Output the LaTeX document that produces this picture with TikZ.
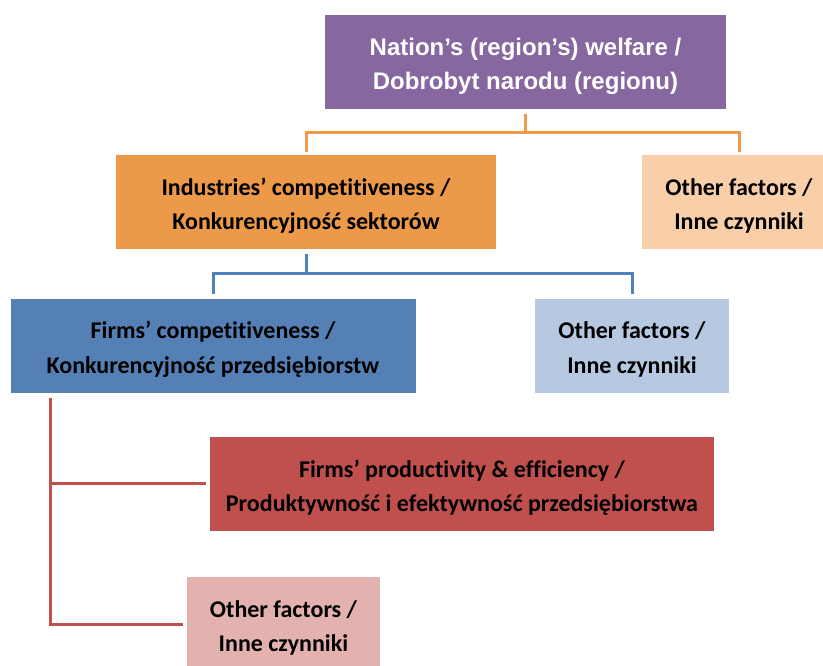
\documentclass[tikz,border=0pt]{standalone}
\usepackage{fontspec}
\setmainfont{Carlito}[Ligatures=NoCommon]
\newfontfamily\arialf{Liberation Sans}
\definecolor{cpurple}{HTML}{8667A0}
\definecolor{corange}{HTML}{EC9A4A}
\definecolor{cpeach}{HTML}{F8CFA8}
\definecolor{cblue}{HTML}{5480B5}
\definecolor{clblue}{HTML}{B7C9E1}
\definecolor{cred}{HTML}{C0504D}
\definecolor{cpink}{HTML}{E3B1AE}
\definecolor{lorange}{HTML}{F0974A}
\definecolor{lblue}{HTML}{4F81BD}
\definecolor{lred}{HTML}{C0504D}
\begin{document}
\begin{tikzpicture}[x=1pt,y=-1pt,
  box/.style={rectangle, inner sep=0pt, minimum height=94pt},
  txt/.style={inner sep=0pt, align=center,
     font=\fontsize{24}{34.5}\selectfont\bfseries, text=black},
  oline/.style={draw=lorange, line width=3pt},
  bline/.style={draw=lblue, line width=3pt},
  rline/.style={draw=lred, line width=3pt}]
\useasboundingbox (0,0) rectangle (823,666);
\node[box, fill=cpurple, minimum width=401pt] (top) at (525.5,62) {};
\node[box, fill=corange, minimum width=380pt] (ind) at (306,202) {};
\node[box, fill=cpeach, minimum width=194pt] (oth1) at (739,202) {};
\node[box, fill=cblue, minimum width=405pt] (firms) at (213,345.5) {};
\node[box, fill=clblue, minimum width=194pt] (oth2) at (632,345.5) {};
\node[box, fill=cred, minimum width=504pt] (prod) at (462,483.5) {};
\node[box, fill=cpink, minimum width=193pt] (oth3) at (283.5,624) {};
% texts
\node[txt, text=white, font=\arialf\fontsize{24}{34.5}\selectfont\bfseries]
  (topt) at ([yshift=-4.5pt]top.center)
  {Nation’s (region’s) welfare /\\Dobrobyt narodu (regionu)};
\node[txt] (indt) at ([yshift=-4pt]ind.center)
  {Industries’ competitiveness /\\Konkurencyjność sektorów};
\node[txt] (oth1t) at ([yshift=-4pt]oth1.center)
  {Other factors /\\Inne czynniki};
\node[txt] (firmst) at ([yshift=-4pt]firms.center)
  {Firms’ competitiveness /\\Konkurencyjność przedsiębiorstw};
\node[txt] (oth2t) at ([yshift=-4pt]oth2.center)
  {Other factors /\\Inne czynniki};
\node[txt] (prodt) at ([yshift=-4pt]prod.center)
  {Firms’ productivity \& efficiency /\\Produktywność i efektywność przedsiębiorstwa};
\node[txt] (oth3t) at ([yshift=-4pt]oth3.center)
  {Other factors /\\Inne czynniki};
% orange tree
\coordinate (j1) at (top.south |- 0,133);
\draw[oline, shorten <=5pt] (top.south) -- (j1);
\draw[oline, shorten >=3pt] (j1) -| (ind.north);
\draw[oline, shorten >=3pt] (j1) -| (oth1.north);
% blue tree
\coordinate (j2) at (ind.south |- 0,274);
\draw[bline, shorten <=5pt] (ind.south) -- (j2);
\draw[bline, shorten >=4pt] (j2) -| (firms.north);
\draw[bline, shorten >=4pt] (j2) -| (oth2.north);
% red tree
\coordinate (r0) at ([xshift=40pt,yshift=-5pt]firms.south west);
\draw[rline, shorten >=4pt] (r0) |- (prod.west);
\draw[rline, shorten >=4pt] (r0) |- (oth3.west);
\end{tikzpicture}
\end{document}
